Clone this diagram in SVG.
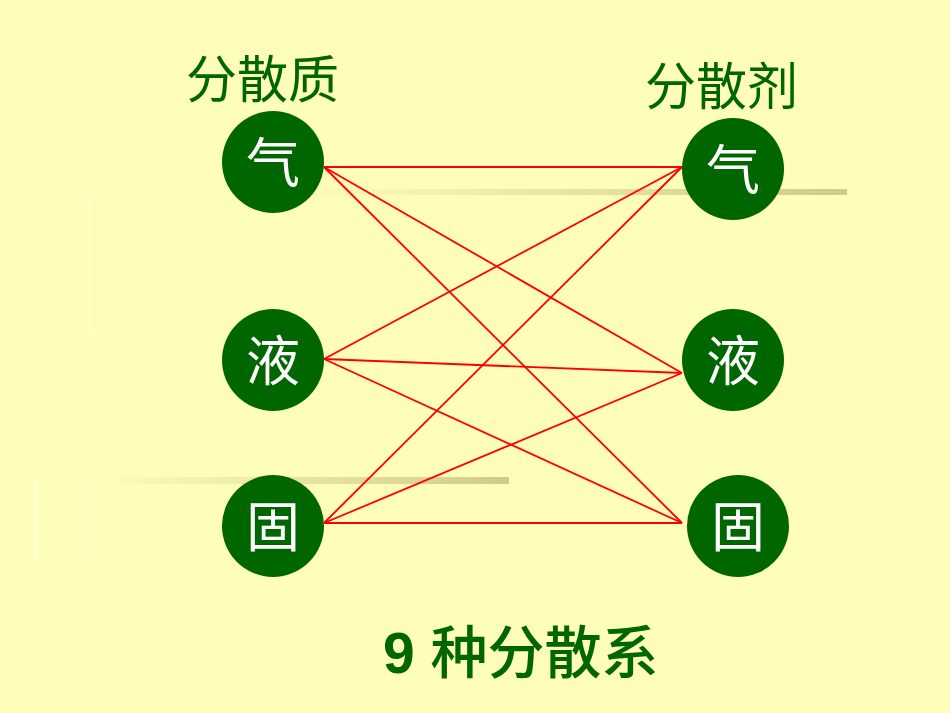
<svg xmlns="http://www.w3.org/2000/svg" width="950" height="713" viewBox="0 0 950 713">
<defs>
<linearGradient id="bar1" x1="0" y1="0" x2="1" y2="0">
<stop offset="0" stop-color="#D2CA8A" stop-opacity="0"/>
<stop offset="0.5" stop-color="#D2CA8A" stop-opacity="0.5"/>
<stop offset="1" stop-color="#D2CA8A" stop-opacity="1"/>
</linearGradient>
<style>
.node circle{fill:#006600}
.node text{fill:#FFFFFF;font-family:"Noto Sans CJK SC",sans-serif;font-size:54px;text-anchor:middle}
.title{fill:#006600;font-family:"Noto Sans CJK SC",sans-serif;font-size:51px}
.conn line{stroke:#FF0000;stroke-width:1.8}
.faint{stroke:#FFFFCC}
</style>
</defs>
<rect width="950" height="713" fill="#FFFDBA"/>
<rect x="300" y="189" width="547" height="6" fill="url(#bar1)"/>
<rect x="100" y="477" width="409" height="7" fill="url(#bar1)"/>
<line class="faint" x1="90" y1="195" x2="90" y2="330" stroke-width="2"/>
<line class="faint" x1="35" y1="480" x2="35" y2="560" stroke-width="3"/>
<line class="faint" x1="88" y1="480" x2="88" y2="560" stroke-width="2"/>
<text class="title" x="186" y="98">分散质</text>
<text class="title" x="645" y="105">分散剂</text>
<g id="connectors" class="conn">
<line x1="324" y1="167" x2="682" y2="167"/>
<line x1="324" y1="167" x2="682" y2="373"/>
<line x1="324" y1="167" x2="682" y2="523"/>
<line x1="324" y1="359" x2="682" y2="167"/>
<line x1="324" y1="359" x2="682" y2="373"/>
<line x1="324" y1="359" x2="682" y2="523"/>
<line x1="324" y1="523" x2="682" y2="167"/>
<line x1="324" y1="523" x2="682" y2="373"/>
<line x1="324" y1="523" x2="682" y2="523"/>
</g>
<g id="left-gas" class="node"><circle cx="273" cy="162" r="51"/><text x="273" y="183">气</text></g>
<g id="left-liquid" class="node"><circle cx="273" cy="360" r="51"/><text x="273" y="381">液</text></g>
<g id="left-solid" class="node"><circle cx="273" cy="526" r="51"/><text x="273" y="547">固</text></g>
<g id="right-gas" class="node"><circle cx="733" cy="169" r="51"/><text x="733" y="190">气</text></g>
<g id="right-liquid" class="node"><circle cx="733" cy="360" r="51"/><text x="733" y="381">液</text></g>
<g id="right-solid" class="node"><circle cx="738" cy="526" r="51"/><text x="738" y="547">固</text></g>
<text x="383" y="673" fill="#006600" font-size="57"><tspan font-family="Liberation Sans, sans-serif" font-weight="bold">9 </tspan><tspan font-family="Noto Sans CJK SC, sans-serif" font-weight="500">种分散系</tspan></text>
</svg>
